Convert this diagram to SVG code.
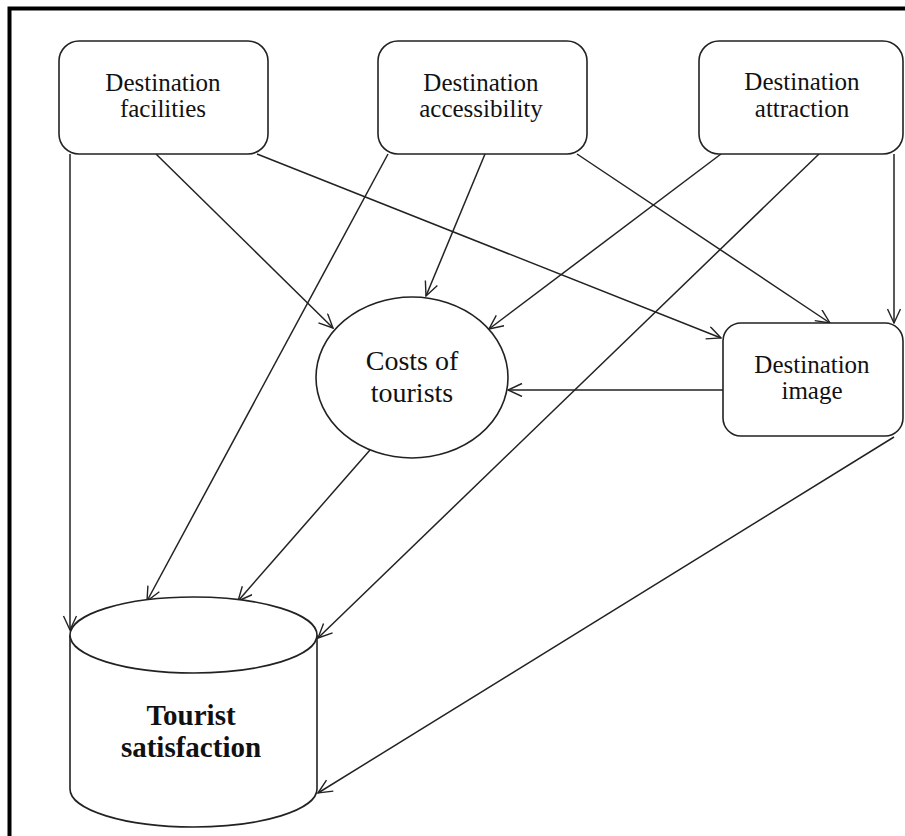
<svg xmlns="http://www.w3.org/2000/svg" width="905" height="836" viewBox="0 0 905 836">
<defs>
<marker id="arr" markerWidth="16" markerHeight="16" refX="15" refY="7" orient="auto" markerUnits="userSpaceOnUse">
<path d="M1,0.5 L15,7 L1,13.5" fill="none" stroke="#222" stroke-width="1.4"/>
</marker>
</defs>
<style>
.box{fill:#fff;stroke:#222;stroke-width:1.6}
.t{font-family:"Liberation Serif","Times New Roman",serif;font-size:25px;fill:#111;text-anchor:middle}
.tb{font-family:"Liberation Serif","Times New Roman",serif;font-size:29px;font-weight:bold;fill:#111;text-anchor:middle}
.c{fill:none;stroke:#222;stroke-width:1.5;marker-end:url(#arr)}
</style>
<rect x="0" y="0" width="905" height="836" fill="#fff"/>
<rect x="9.5" y="8.5" width="920" height="850" fill="none" stroke="#000" stroke-width="4"/>
<g id="connectors">
<line class="c" x1="70" y1="154" x2="70" y2="630"/>
<line class="c" x1="156" y1="154" x2="333" y2="328"/>
<line class="c" x1="257" y1="154" x2="721" y2="338"/>
<line class="c" x1="388" y1="154" x2="147" y2="601"/>
<line class="c" x1="485" y1="154" x2="426" y2="296"/>
<line class="c" x1="577" y1="154" x2="830" y2="323"/>
<line class="c" x1="721" y1="154" x2="489" y2="329"/>
<line class="c" x1="819" y1="154" x2="318" y2="638"/>
<line class="c" x1="894" y1="154" x2="894" y2="323"/>
<line class="c" x1="370" y1="450" x2="238" y2="601"/>
<line class="c" x1="723" y1="390" x2="508" y2="390"/>
<line class="c" x1="894" y1="437" x2="318" y2="793"/>
</g>
<g id="facilities">
<rect class="box" x="59" y="41" width="209" height="113" rx="20"/>
<text class="t" x="163" y="91">Destination</text>
<text class="t" x="163" y="117">facilities</text>
</g>
<g id="accessibility">
<rect class="box" x="378" y="41" width="209" height="113" rx="20"/>
<text class="t" x="481" y="91">Destination</text>
<text class="t" x="481" y="117">accessibility</text>
</g>
<g id="attraction">
<rect class="box" x="699" y="41" width="204" height="113" rx="20"/>
<text class="t" x="802" y="90">Destination</text>
<text class="t" x="802" y="117">attraction</text>
</g>
<g id="costs">
<ellipse class="box" cx="412" cy="377.5" rx="96" ry="80.5"/>
<text class="t" x="412" y="370" style="font-size:28px">Costs of</text>
<text class="t" x="412" y="402" style="font-size:28px">tourists</text>
</g>
<g id="image">
<rect class="box" x="723" y="323" width="180" height="113" rx="18"/>
<text class="t" x="812" y="373">Destination</text>
<text class="t" x="812" y="399">image</text>
</g>
<g id="satisfaction">
<path class="box" d="M70,635 L70,789 A123.5,38 0 0,0 317,789 L317,635"/>
<ellipse class="box" cx="193.5" cy="635" rx="123.5" ry="38"/>
<text class="tb" x="191" y="725">Tourist</text>
<text class="tb" x="191" y="757">satisfaction</text>
</g>
</svg>
